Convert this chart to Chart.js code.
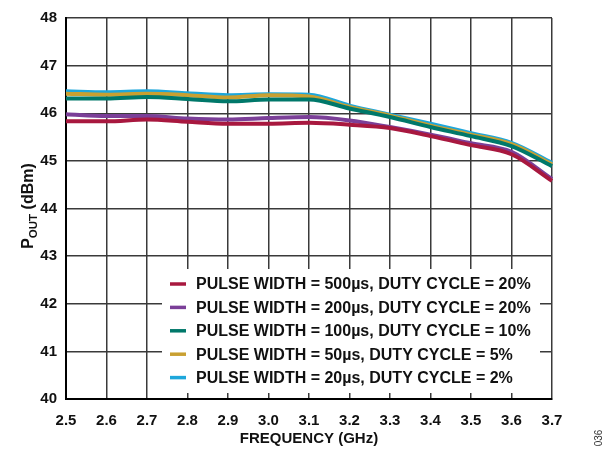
<!DOCTYPE html>
<html>
<head>
<meta charset="utf-8">
<script src="https://cdn.jsdelivr.net/npm/chart.js@4/dist/chart.umd.min.js"></script>
<style>
  html, body { margin: 0; padding: 0; background: #fff; }
  #wrap { width: 608px; height: 454px; }
</style>
</head>
<body>
<div id="wrap"><canvas id="myChart" width="608" height="454"></canvas></div>
<script>
// frequency points (GHz)
var freqLabels = ["2.5", "2.6", "2.7", "2.8", "2.9", "3.0", "3.1", "3.2", "3.3", "3.4", "3.5", "3.6", "3.7"];

// Pout (dBm)
var pw500 = [45.83, 45.83, 45.87, 45.82, 45.78, 45.78, 45.80, 45.76, 45.69, 45.52, 45.33, 45.14, 44.58];
var pw200 = [45.98, 45.94, 45.94, 45.89, 45.87, 45.90, 45.92, 45.85, 45.71, 45.55, 45.37, 45.19, 44.62];
var pw100 = [46.31, 46.31, 46.34, 46.30, 46.25, 46.29, 46.29, 46.10, 45.92, 45.71, 45.52, 45.31, 44.89];
var pw50  = [46.41, 46.39, 46.41, 46.38, 46.33, 46.38, 46.35, 46.13, 45.95, 45.74, 45.55, 45.35, 44.93];
var pw20  = [46.46, 46.44, 46.46, 46.42, 46.38, 46.40, 46.39, 46.16, 45.97, 45.78, 45.58, 45.38, 44.96];

var seriesNames = [
  "PULSE WIDTH = 500\u00b5s, DUTY CYCLE = 20%",
  "PULSE WIDTH = 200\u00b5s, DUTY CYCLE = 20%",
  "PULSE WIDTH = 100\u00b5s, DUTY CYCLE = 10%",
  "PULSE WIDTH = 50\u00b5s, DUTY CYCLE = 5%",
  "PULSE WIDTH = 20\u00b5s, DUTY CYCLE = 2%"
];
var seriesColors = ["#A8183F", "#7B3F98", "#00786A", "#C9A031", "#1EA7DB"];
var seriesData = [pw500, pw200, pw100, pw50, pw20];

var FONT = "'Liberation Sans', Arial, sans-serif";

// legend with white box, drawn inside the plot
var boxLegend = {
  id: "boxLegend",
  afterDatasetsDraw: function (chart) {
    var ctx = chart.ctx;
    ctx.save();
    ctx.fillStyle = "#fff";
    ctx.fillRect(162, 269, 540 - 162, 393 - 269);
    ctx.font = "bold 16px " + FONT;
    ctx.textBaseline = "middle";
    ctx.textAlign = "left";
    for (var i = 0; i < seriesNames.length; i++) {
      var y = 284 + i * 23.4;
      ctx.strokeStyle = seriesColors[i];
      ctx.lineWidth = 3.5;
      ctx.beginPath();
      ctx.moveTo(170, y);
      ctx.lineTo(186, y);
      ctx.stroke();
      ctx.fillStyle = "#111";
      ctx.fillText(seriesNames[i], 196, y + 1);
    }
    ctx.restore();
  },
  afterDraw: function (chart) {
    var ctx = chart.ctx;
    ctx.save();
    ctx.fillStyle = "#111";
    // y axis title with subscript
    ctx.translate(28, 206);
    ctx.rotate(-Math.PI / 2);
    ctx.textBaseline = "alphabetic";
    ctx.font = "bold 16px " + FONT;
    var w1 = ctx.measureText("P").width;
    ctx.font = "bold 11.5px " + FONT;
    var w2 = ctx.measureText("OUT").width;
    ctx.font = "bold 16px " + FONT;
    var w3 = ctx.measureText(" (dBm)").width;
    var x0 = -(w1 + w2 + w3) / 2;
    ctx.fillText("P", x0, 5);
    ctx.font = "bold 11.5px " + FONT;
    ctx.fillText("OUT", x0 + w1, 9);
    ctx.font = "bold 16px " + FONT;
    ctx.fillText(" (dBm)", x0 + w1 + w2, 5);
    ctx.restore();
    // figure number
    ctx.save();
    ctx.fillStyle = "#333";
    ctx.font = "10px " + FONT;
    ctx.translate(599, 438);
    ctx.rotate(-Math.PI / 2);
    ctx.textAlign = "center";
    ctx.textBaseline = "middle";
    ctx.fillText("036", 0, 0);
    ctx.restore();
  }
};

var datasets = [];
for (var i = 0; i < seriesData.length; i++) {
  datasets.push({
    label: seriesNames[i],
    data: seriesData[i],
    borderColor: seriesColors[i],
    backgroundColor: seriesColors[i],
    borderWidth: 4,
    pointRadius: 0,
    tension: 0.4,
    cubicInterpolationMode: "monotone",
    fill: false
  });
}

var ctx = document.getElementById("myChart").getContext("2d");
var myChart = new Chart(ctx, {
  type: "line",
  data: {
    labels: freqLabels,
    datasets: datasets
  },
  options: {
    responsive: false,
    animation: false,
    layout: { padding: { left: 0, right: 56, top: 16, bottom: 0 } },
    plugins: {
      legend: { display: false },
      tooltip: { enabled: false }
    },
    scales: {
      x: {
        type: "category",
        offset: false,
        grid: { color: "#3a3a3a", lineWidth: 1.5, drawTicks: false },
        border: { color: "#000", width: 2 },
        ticks: {
          color: "#111",
          font: { family: FONT, size: 15, weight: "bold" },
          padding: 13,
          maxRotation: 0,
          autoSkip: false
        },
        title: {
          display: true,
          text: "FREQUENCY (GHz)",
          color: "#111",
          font: { family: FONT, size: 15, weight: "bold" },
          padding: { top: 0, bottom: 6 }
        },
        afterFit: function (scale) { scale.height = 55; }
      },
      y: {
        min: 40,
        max: 48,
        grid: { color: "#3a3a3a", lineWidth: 1.5, drawTicks: false },
        border: { color: "#000", width: 2 },
        ticks: {
          stepSize: 1,
          color: "#111",
          font: { family: FONT, size: 15, weight: "bold" },
          padding: 9
        },
        afterFit: function (scale) { scale.width = 66; }
      }
    }
  },
  plugins: [boxLegend]
});
</script>
</body>
</html>
